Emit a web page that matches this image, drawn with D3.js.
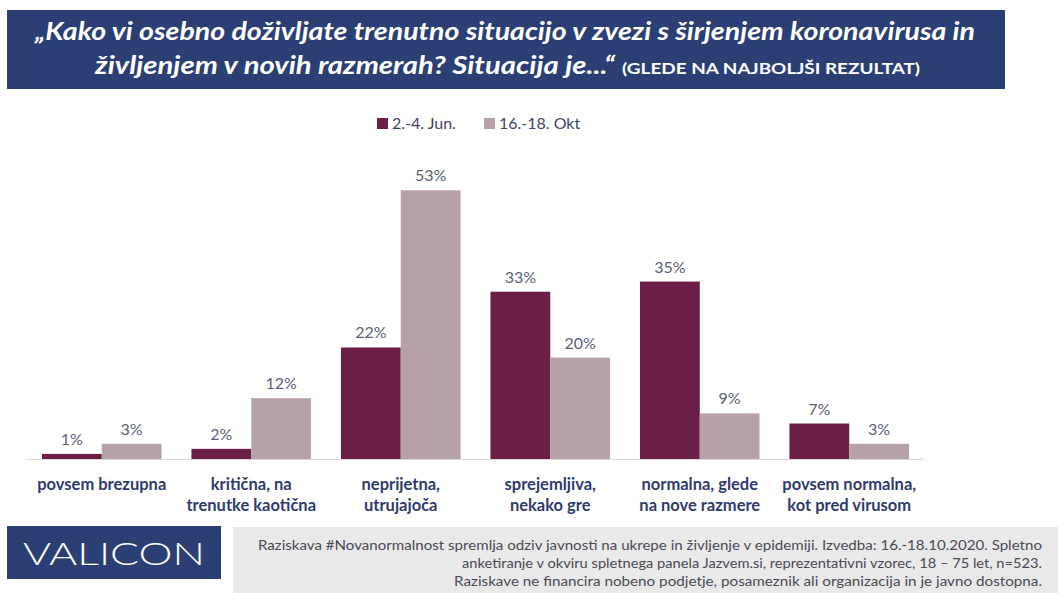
<!DOCTYPE html>
<html>
<head>
<meta charset="utf-8">
<script src="https://cdn.jsdelivr.net/npm/d3@7"></script>
<style>
  body { margin: 0; background: #fff; }
  svg { display: block; }
</style>
</head>
<body>
<svg id="chart" width="1058" height="593"></svg>
<script>
// data
const CATEGORIES = [
    ['povsem brezupna'],
    ['kritična, na', 'trenutke kaotična'],
    ['neprijetna,', 'utrujajoča'],
    ['sprejemljiva,', 'nekako gre'],
    ['normalna, glede', 'na nove razmere'],
    ['povsem normalna,', 'kot pred virusom']
];
const SERIES = ['2.-4. Jun.', '16.-18. Okt'];
const JUN = [1, 2, 22, 33, 35, 7];
const OKT = [3, 12, 53, 20, 9, 3];
const COLORS = ['#6b1e48', '#b7a1a9'];

const SVG = d3.select('#chart');
const BASE_Y = 459;

// title banner
SVG.append('rect').attr('x', 7).attr('y', 10).attr('width', 998).attr('height', 79)
    .style('fill', '#2b3f74');
SVG.append('text')
    .attr('x', 505).attr('y', 40)
    .attr('text-anchor', 'middle')
    .attr('textLength', 940).attr('lengthAdjust', 'spacingAndGlyphs')
    .style('font-family', 'Lato, sans-serif').style('font-weight', 700).style('font-style', 'italic')
    .style('font-size', '24px').style('fill', '#fff')
    .text('„Kako vi osebno doživljate trenutno situacijo v zvezi s širjenjem koronavirusa in');
const T2 = SVG.append('text')
    .attr('x', 95).attr('y', 74)
    .style('font-family', 'Lato, sans-serif').style('font-weight', 700)
    .style('fill', '#fff');
T2.append('tspan').style('font-style', 'italic').style('font-size', '24px')
    .attr('textLength', 520).attr('lengthAdjust', 'spacingAndGlyphs')
    .text('življenjem v novih razmerah? Situacija je...“');
T2.append('tspan').attr('x', 622).style('font-size', '16px')
    .attr('textLength', 298).attr('lengthAdjust', 'spacingAndGlyphs')
    .text('(GLEDE NA NAJBOLJŠI REZULTAT)');

// legend
const LEG_X = [377, 484];
SERIES.forEach((s, i) => {
    SVG.append('rect').attr('x', LEG_X[i]).attr('y', 118).attr('width', 11).attr('height', 11)
        .style('fill', COLORS[i]);
    SVG.append('text').attr('x', LEG_X[i] + 15).attr('y', 129)
        .style('font-family', 'Lato, sans-serif').style('font-size', '16px').style('fill', '#3f4566')
        .text(s);
});

// scales
const X = d3.scaleBand()
    .domain(d3.range(CATEGORIES.length))
    .range([27, 924])
    .paddingInner(0.2)
    .paddingOuter(0.1);
const X_INNER = d3.scaleBand().domain([0, 1]).range([0, X.bandwidth()]);
const Y = d3.scaleLinear().domain([0, 60]).range([BASE_Y, BASE_Y - 60 * 5.07]);

const rows = CATEGORIES.map((c, i) => ({ i: i, values: [JUN[i], OKT[i]] }));

const groups = SVG.append('g').attr('id', 'bars')
    .selectAll('g')
    .data(rows)
    .join('g')
    .attr('transform', d => `translate(${X(d.i)},0)`);

groups.selectAll('rect')
    .data(d => d.values.map((v, s) => ({ v: v, s: s })))
    .join('rect')
    .attr('x', d => X_INNER(d.s))
    .attr('y', d => Y(d.v))
    .attr('width', X_INNER.bandwidth())
    .attr('height', d => BASE_Y - Y(d.v))
    .style('fill', d => COLORS[d.s]);

groups.selectAll('text.val')
    .data(d => d.values.map((v, s) => ({ v: v, s: s })))
    .join('text')
    .attr('class', 'val')
    .attr('x', d => X_INNER(d.s) + X_INNER.bandwidth() / 2)
    .attr('y', d => Y(d.v) - 9)
    .attr('text-anchor', 'middle')
    .style('font-family', 'Lato, sans-serif').style('font-size', '16px').style('fill', '#5a6079')
    .text(d => d.v + '%');

// baseline
SVG.append('line').attr('x1', 27).attr('x2', 924).attr('y1', BASE_Y + 0.5).attr('y2', BASE_Y + 0.5)
    .style('stroke', '#d9d9d9').style('stroke-width', 1);

// category labels
SVG.append('g').attr('id', 'cats')
    .selectAll('text')
    .data(CATEGORIES)
    .join('text')
    .attr('x', (d, i) => X(i) + X.bandwidth() / 2)
    .attr('y', 490)
    .attr('text-anchor', 'middle')
    .style('font-family', 'Lato, sans-serif').style('font-weight', 700)
    .style('font-size', '16.5px').style('fill', '#2f3b6b')
    .each((d, i, n) => {
        d.forEach((line, k) => {
            d3.select(n[i]).append('tspan')
                .attr('x', X(i) + X.bandwidth() / 2)
                .attr('dy', k === 0 ? 0 : 21)
                .text(line);
        });
    });

// footer
SVG.append('rect').attr('x', 7).attr('y', 526).attr('width', 214).attr('height', 53)
    .style('fill', '#2b3f74');
SVG.append('text').attr('x', 114).attr('y', 565).attr('text-anchor', 'middle')
    .attr('textLength', 182).attr('lengthAdjust', 'spacingAndGlyphs')
    .style('font-family', 'Lato, sans-serif').style('font-weight', 300)
    .style('font-size', '32px').style('fill', '#fff')
    .text('VALICON');

SVG.append('rect').attr('x', 233).attr('y', 527).attr('width', 825).attr('height', 66)
    .style('fill', '#e9e9e9');
const FOOT = [
    ['Raziskava #Novanormalnost spremlja odziv javnosti na ukrepe in življenje v epidemiji. Izvedba: 16.-18.10.2020. Spletno', 784],
    ['anketiranje v okviru spletnega panela Jazvem.si, reprezentativni vzorec, 18 – 75 let, n=523.', 580],
    ['Raziskave ne financira nobeno podjetje, posameznik ali organizacija in je javno dostopna.', 588]
];
SVG.append('g').attr('id', 'foot')
    .selectAll('text')
    .data(FOOT)
    .join('text')
    .attr('x', 1042)
    .attr('y', (d, i) => 550 + i * 18)
    .attr('text-anchor', 'end')
    .attr('textLength', d => d[1]).attr('lengthAdjust', 'spacingAndGlyphs')
    .style('font-family', 'Lato, sans-serif').style('font-size', '13.5px').style('fill', '#4a4a55')
    .text(d => d[0]);
</script>
</body>
</html>
